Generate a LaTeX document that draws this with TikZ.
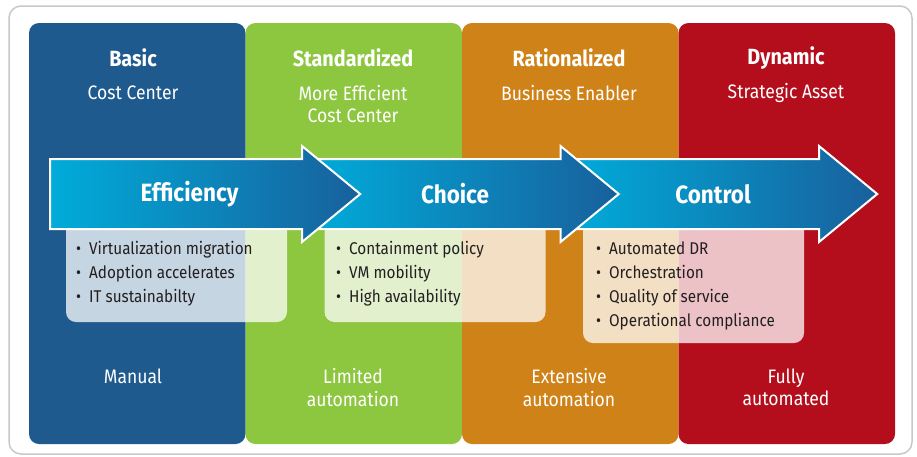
\documentclass[tikz,border=0pt]{standalone}
\usepackage{fontspec}
\setmainfont{Fira Sans}[FakeStretch=0.9]
\usetikzlibrary{shapes.arrows}
\definecolor{basicblue}{RGB}{31,90,143}
\definecolor{stdgreen}{RGB}{141,198,63}
\definecolor{ratorange}{RGB}{207,130,23}
\definecolor{dynred}{RGB}{180,14,29}
\definecolor{arrowcyan}{RGB}{0,172,218}
\definecolor{arrowblue}{RGB}{24,96,156}
\definecolor{darktext}{RGB}{35,31,32}
\definecolor{framegray}{RGB}{200,200,205}

\begin{document}
\begin{tikzpicture}[x=1pt, y=-1pt,
    col/.style={rectangle, rounded corners=10pt, minimum width=216.5pt, minimum height=421pt, inner sep=0pt},
    ttl/.style={text=white, font=\fontsize{22}{26}\selectfont\bfseries},
    sub/.style={text=white, font=\fontsize{19.5}{22.5}\selectfont, align=center},
    card/.style={fill=white, fill opacity=0.75, rounded corners=10pt, minimum width=221pt, inner sep=0pt},
    item/.style={anchor=west, text=darktext, font=\fontsize{17}{24}\selectfont, inner sep=0pt, text height=12pt, text depth=4pt},
    stage/.style={single arrow, single arrow head extend=13pt, single arrow tip angle=79, text height=68pt, text depth=0pt, text width=0pt, minimum height=310pt, inner sep=0pt, draw=white, line width=2pt, left color=arrowcyan, right color=arrowblue},
    stagelbl/.style={text=white, font=\fontsize{25}{30}\selectfont\bfseries}]
    \useasboundingbox (0,0) rectangle (917,456);
    \node[draw=framegray, line width=1.5pt, rounded corners=12pt, minimum width=903pt, minimum height=448pt] (frame) at (460.5,230) {};

    \node[col, fill=basicblue] (basic) at (137.25,233.5) {};
    \node[col, fill=stdgreen] (std) at (353.75,233.5) {};
    \node[col, fill=ratorange] (rat) at (570.25,233.5) {};
    \node[col, fill=dynred] (dyn) at (786.75,233.5) {};

    \node[ttl] (basicttl) at (133,58) {Basic};
    \node[ttl] (stdttl) at (353,58) {Standardized};
    \node[ttl] (ratttl) at (569,58) {Rationalized};
    \node[ttl] (dynttl) at (786,58) {Dynamic};
    \node[sub] (basicsub) at (133,93) {Cost Center};
    \node[sub] (stdsub) at (353,104) {More Efficient\\Cost Center};
    \node[sub] (ratsub) at (569,93) {Business Enabler};
    \node[sub] (dynsub) at (786,93) {Strategic Asset};

    \node[card, minimum height=107pt] (effcard) at (176.5,268.5) {};
    \node[card, minimum height=107pt] (chocard) at (435,268.5) {};
    \node[card, minimum height=128pt] (concard) at (693.5,279) {};

    \node[stage] (conarrow) at (701,194) {};
    \node[stage] (choarrow) at (442.5,194) {};
    \node[stage] (effarrow) at (184,194) {};
    \node[stagelbl] (efflbl) at (189.5,194) {Efficiency};
    \node[stagelbl] (cholbl) at (455,194) {Choice};
    \node[stagelbl] (conlbl) at (713,194) {Control};

    \foreach \t [count=\i] in {Virtualization migration, Adoption accelerates, IT sustainabilty}
        \node[item] (eff\i) at (76,250+24*\i-24) {•\hspace{8pt}\t};
    \foreach \t [count=\i] in {Containment policy, VM mobility, High availability}
        \node[item] (cho\i) at (336,250+24*\i-24) {•\hspace{8pt}\t};
    \foreach \t [count=\i] in {Automated DR, Orchestration, Quality of service, Operational compliance}
        \node[item] (con\i) at (596,250+24*\i-24) {•\hspace{8pt}\t};

    \node[sub] (basicauto) at (133,376) {Manual};
    \node[sub] (stdauto) at (353,387.5) {Limited\\automation};
    \node[sub] (ratauto) at (569,387.5) {Extensive\\automation};
    \node[sub] (dynauto) at (786,387.5) {Fully\\automated};
\end{tikzpicture}
\end{document}
